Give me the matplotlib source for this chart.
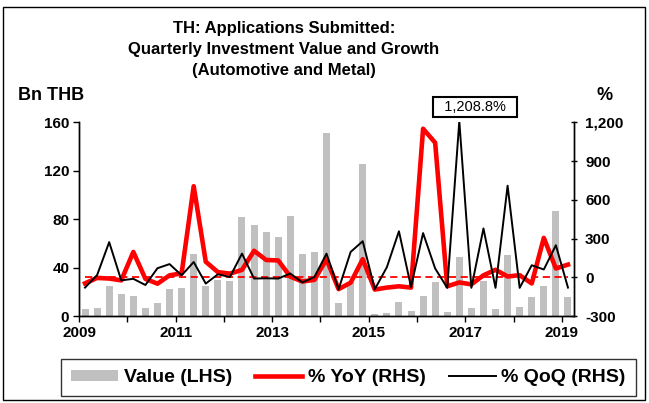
import numpy as np
import matplotlib
matplotlib.use("Agg")
import matplotlib.pyplot as plt
from matplotlib.patches import Rectangle
from matplotlib.ticker import FuncFormatter

plt.rcParams['font.family'] = ['Liberation Sans', 'DejaVu Sans']
plt.rcParams['font.weight'] = 'bold'

# quarterly data, 2009Q1 .. 2019Q1
start_year = 2009
value = [5.5, 6.9, 25, 18.5, 16.3, 6.3, 11, 22, 22.9, 51,
         25, 29.5, 28.7, 82, 75, 69, 65, 83, 51, 53,
         151.5, 11, 28, 125.5, 1.5, 2.5, 11.5, 4, 16.5, 28,
         3.6, 49, 6.3, 29, 6, 50.3, 7.5, 15.3, 24.7, 86.4,
         15.3]
yoy = [-47, -5, -10, -24, 196, -12, -50, 15, 30, 705,
       120, 40, 28, 57, 205, 134, 130, 5, -33, -20,
       140, -92, -42, 140, -95, -80, -70, -80, 1150, 1042,
       -70, -40, -55, 15, 58, 6, 16, -48, 305, 68,
       98]
qoq = [-80, 17, 272, -24, -12, -60, 70, 102, 15, 118,
       -49, 23, 2, 183, -10, -8, -10, 29, -40, 2,
       183, -93, 196, 279, -93, 78, 356, -75, 342, 68,
       -82, 1208.8, -82, 378, -82, 709, -82, 93, 60, 248,
       -80]
year_ticks = list(range(2009, 2020))
year_labels = [str(y) if y % 2 == 1 else '' for y in year_ticks]
peak_label = '1,208.8%'

n = len(value)
x = start_year + np.arange(n) * 0.25 + 0.125

fig = plt.figure(figsize=(6.49, 4.03), dpi=100)
ax = fig.add_axes([79 / 649, 1 - 316 / 403, (574 - 79) / 649, (316 - 122.3) / 403])
ax2 = ax.twinx()

ax.bar(x, value, width=0.145, color='#C0C0C0', label='Value (LHS)', zorder=1)
ax2.plot(x, np.zeros(n), color='red', lw=1.3, ls=(0, (4, 2.5)), zorder=2)
ax2.plot(x, yoy, color='#FF0000', lw=3.3, label='% YoY (RHS)', zorder=3,
         solid_joinstyle='round')
ax2.plot(x, qoq, color='black', lw=1.4, label='% QoQ (RHS)', zorder=4)

ax.set_xlim(start_year, start_year + n * 0.25)
ax.set_ylim(0, 160)
ax2.set_ylim(-300, 1200)
ax.set_yticks(np.arange(0, 161, 40))
ax2.set_yticks(np.arange(-300, 1201, 300))
ax2.yaxis.set_major_formatter(FuncFormatter(lambda v, p: f'{v:,.0f}'))
ax.set_xticks(year_ticks)
ax.set_xticklabels(year_labels)

for a in (ax, ax2):
    a.spines['top'].set_visible(False)
    for s in a.spines.values():
        s.set_linewidth(1.0)
ax.tick_params(axis='both', labelsize=11, length=4, width=1, direction='out', pad=3)
ax2.tick_params(axis='y', labelsize=11, length=4, width=1, direction='inout', pad=6)
for lab in ax.get_xticklabels() + ax.get_yticklabels() + ax2.get_yticklabels():
    lab.set_fontweight('bold')

# peak annotation, box sits a little right of the spike
i_peak = int(np.argmax(qoq))
ax2.annotate('  ' + peak_label + '  ', xy=(x[i_peak] + 0.33, 1265), ha='center', va='bottom',
             fontsize=10.5, fontweight='normal', annotation_clip=False,
             bbox=dict(boxstyle='square,pad=0.2', fc='white', ec='black', lw=1.5))

# titles and axis unit labels
fig.text(284 / 649, 1 - 21 / 403,
         'TH: Applications Submitted:\nQuarterly Investment Value and Growth\n(Automotive and Metal)',
         ha='center', va='top', fontsize=12, fontweight='bold', linespacing=1.5)
fig.text(18 / 649, 1 - 100 / 403, 'Bn THB', ha='left', va='baseline', fontsize=13, fontweight='bold')
fig.text(605 / 649, 1 - 100 / 403, '%', ha='center', va='baseline', fontsize=13, fontweight='bold')

# legend
h1, l1 = ax.get_legend_handles_labels()
h2, l2 = ax2.get_legend_handles_labels()
leg = fig.legend(h1 + h2, l1 + l2, loc='center', bbox_to_anchor=(348.5 / 649, 1 - 377.5 / 403),
                 ncol=3, frameon=True, fancybox=False, edgecolor='black',
                 handlelength=2.4, handleheight=0.5, handletextpad=0.3, columnspacing=1.2,
                 borderpad=0.5, prop={'weight': 'bold', 'size': 14})
leg.get_frame().set_linewidth(1.0)

# outer chart frame
fig.patches.append(Rectangle((3 / 649, 1 - 400 / 403), 642 / 649, 393 / 403,
                             transform=fig.transFigure, fill=False, ec='black', lw=1.0))

fig.savefig('out.png', dpi=100)
